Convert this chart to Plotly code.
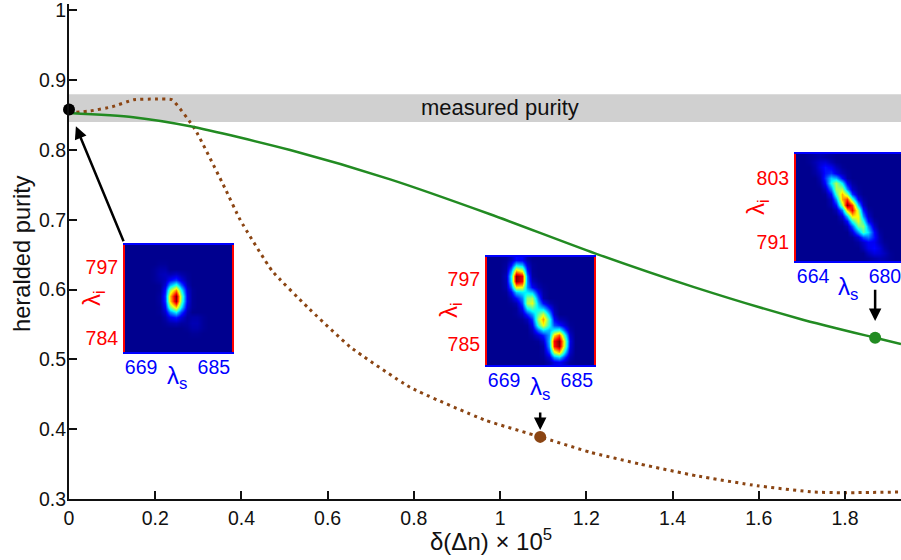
import plotly.graph_objects as go

W, H = 901, 560
L, TOP, BOT = 69, 4, 499

delta_green = [0, .149, .281, .513, .745, .977, 1.22, 1.448, 1.696, 1.87, 1.93]
purity_green = [.853, .847, .834, .800, .758, .708, .652, .604, .558, .531, .522]
delta_brown = [0, .05, .1, .15, .2, .239, .292, .362, .397, .471, .553, .652, .791, .965, 1.093, 1.209, 1.325, 1.457, 1.596, 1.726, 1.796, 1.93]
purity_brown = [.853, .856, .862, .872, .873, .872, .830, .745, .700, .627, .575, .518, .460, .413, .389, .367, .350, .333, .319, .310, .309, .310]
band_low, band_high = 0.84, 0.88
x_ticks = [0, .2, .4, .6, .8, 1, 1.2, 1.4, 1.6, 1.8]
y_ticks = [.3, .4, .5, .6, .7, .8, .9, 1]
dots_x = [0, 1.093, 1.87]
dots_y = [.858, .389, .531]

map_a = [
 [0]*20,
 [0]*20,
 [0]*20,
 [0,0,0,0,0,0,1,1,0,0,0,0,0,0,0,0,0,0,0,0],
 [0,0,0,0,0,1,3,3,0,0,0,0,0,0,0,0,0,0,0,0],
 [0,0,0,0,0,1,4,5,4,6,3,1,0,0,0,0,0,0,0,0],
 [0,0,0,0,0,1,3,5,13,18,9,2,0,0,0,0,0,0,0,0],
 [0,0,0,0,0,0,1,8,30,43,22,4,0,0,0,0,0,0,0,0],
 [0,0,0,0,0,0,1,14,53,74,39,8,1,0,0,0,0,0,0,0],
 [0,0,0,0,0,0,2,18,69,100,51,10,1,0,0,0,0,0,0,0],
 [0,0,0,0,0,0,2,17,67,98,49,10,1,0,0,0,0,0,0,0],
 [0,0,0,0,0,0,1,12,48,68,36,7,1,0,0,0,0,0,0,0],
 [0,0,0,0,0,0,1,7,26,37,19,4,0,0,0,0,0,0,0,0],
 [0,0,0,0,0,0,0,3,11,15,8,2,3,3,1,0,0,0,0,0],
 [0,0,0,0,0,0,0,1,3,4,2,2,4,4,1,0,0,0,0,0],
 [0,0,0,0,0,0,0,0,0,0,0,1,3,3,1,0,0,0,0,0],
 [0,0,0,0,0,0,0,0,0,0,0,0,1,1,0,0,0,0,0,0],
 [0]*20,
 [0]*20,
 [0]*20,
]
map_b = [
 [0,0,0,1,5,13,11,3,0,0,0,0,0,0,0,0,0,0,0,0],
 [0,0,0,2,13,36,31,8,1,0,0,0,0,0,0,0,0,0,0,0],
 [0,0,0,3,28,72,62,16,1,0,0,0,0,0,0,0,0,0,0,0],
 [0,0,0,5,38,100,90,24,2,0,0,0,0,0,0,0,0,0,0,0],
 [0,0,0,4,36,98,88,26,5,1,0,0,0,0,0,0,0,0,0,0],
 [0,0,0,3,24,64,62,27,12,4,1,0,0,0,0,0,0,0,0,0],
 [0,0,0,1,11,32,36,36,32,12,2,0,0,0,0,0,0,0,0,0],
 [0,0,0,0,4,13,25,50,54,22,3,0,0,0,0,0,0,0,0,0],
 [0,0,0,0,1,4,19,54,60,30,13,4,1,0,0,0,0,0,0,0],
 [0,0,0,0,0,1,12,38,46,36,31,15,3,0,0,0,0,0,0,0],
 [0,0,0,0,0,1,5,17,28,46,58,31,6,0,0,0,0,0,0,0],
 [0,0,0,0,0,0,1,5,17,54,72,43,12,4,2,0,0,0,0,0],
 [0,0,0,0,0,0,0,1,10,43,62,40,20,15,7,1,0,0,0,0],
 [0,0,0,0,0,0,0,0,5,23,35,30,38,42,19,3,0,0,0,0],
 [0,0,0,0,0,0,0,0,2,8,15,28,66,80,38,6,0,0,0,0],
 [0,0,0,0,0,0,0,0,0,1,7,31,88,100,52,9,0,0,0,0],
 [0,0,0,0,0,0,0,0,0,0,3,28,86,98,50,8,0,0,0,0],
 [0,0,0,0,0,0,0,0,0,0,2,18,58,70,33,6,0,0,0,0],
 [0,0,0,0,0,0,0,0,0,0,1,8,28,34,16,3,0,0,0,0],
 [0,0,0,0,0,0,0,0,0,0,0,3,9,11,6,1,0,0,0,0],
]
map_c = [
 [0,0,1,2,3,2,1,0,0,0,0,0,0,0,0,0,0,0,0,0],
 [0,0,1,4,7,8,4,1,0,0,0,0,0,0,0,0,0,0,0,0],
 [0,0,0,3,9,14,11,5,1,0,0,0,0,0,0,0,0,0,0,0],
 [0,0,0,2,6,14,17,10,4,1,0,0,0,0,0,0,0,0,0,0],
 [0,0,0,0,4,17,33,30,13,2,0,0,0,0,0,0,0,0,0,0],
 [0,0,0,0,2,13,39,55,36,11,2,0,0,0,0,0,0,0,0,0],
 [0,0,0,0,0,5,25,54,55,26,6,1,0,0,0,0,0,0,0,0],
 [0,0,0,0,0,1,13,44,70,52,18,3,0,0,0,0,0,0,0,0],
 [0,0,0,0,0,0,5,28,71,82,45,11,2,0,0,0,0,0,0,0],
 [0,0,0,0,0,0,3,14,54,100,82,32,6,0,0,0,0,0,0,0],
 [0,0,0,0,0,0,0,4,24,68,89,54,15,2,0,0,0,0,0,0],
 [0,0,0,0,0,0,0,0,8,32,65,62,27,6,0,0,0,0,0,0],
 [0,0,0,0,0,0,0,0,2,13,41,60,41,13,2,0,0,0,0,0],
 [0,0,0,0,0,0,0,0,0,4,21,48,52,26,6,0,0,0,0,0],
 [0,0,0,0,0,0,0,0,0,0,8,27,45,35,13,2,0,0,0,0],
 [0,0,0,0,0,0,0,0,0,0,1,8,20,24,14,4,0,0,0,0],
 [0,0,0,0,0,0,0,0,0,0,0,2,7,12,11,5,1,0,0,0],
 [0,0,0,0,0,0,0,0,0,0,0,0,4,10,13,9,3,0,0,0],
 [0,0,0,0,0,0,0,0,0,0,0,0,0,5,9,8,5,1,0,0],
 [0,0,0,0,0,0,0,0,0,0,0,0,0,1,3,4,3,1,0,0],
]

FONT = "Liberation Sans"
INK = "#111111"
BLUE = "#0000ff"
RED = "#ff0000"
JET = [[0, "#00008f"], [.125, "#0000ff"], [.375, "#00ffff"], [.625, "#ffff00"], [.875, "#ff0000"], [1, "#800000"]]

fig = go.Figure()
fig.add_trace(go.Scatter(x=delta_brown, y=purity_brown, mode="lines",
                         line=dict(color="#8b4513", width=3, dash="3px,4.3px", shape="spline", smoothing=.4)))
fig.add_trace(go.Scatter(x=delta_green, y=purity_green, mode="lines",
                         line=dict(color="#228b22", width=2.5, shape="spline", smoothing=.7)))
fig.add_trace(go.Scatter(x=dots_x, y=dots_y, mode="markers", cliponaxis=False,
                         marker=dict(size=12, color=["#000000", "#8b4513", "#228b22"])))


def px(x):
    return x / W


def py(y):
    return 1 - y / H


insets = [
    dict(z=map_a, box=(125, 245, 232, 352), xt=[3, 16.6], xl=["669", "685"], yt=[4.1, 17.4], yl=["797", "784"],
         li=(93, 298), ls=(177, 377), xr=[0, 20]),
    dict(z=map_b, box=(487, 257, 594, 365), xt=[3.2, 16.8], xl=["669", "685"], yt=[4.1, 16.1], yl=["797", "785"],
         li=(450, 310), ls=(540, 388), xr=[0, 20]),
    dict(z=map_c, box=(796, 154, 901, 261), xt=[3.2, 16.6], xl=["664", "680"], yt=[4.5, 16.4], yl=["803", "791"],
         li=(757, 207), ls=(848, 288), xr=[0, 19.6]),
]
layout_axes = {}
anns = []
for i, ins in enumerate(insets, start=2):
    x0, y0, x1, y1 = ins["box"]
    fig.add_trace(go.Heatmap(z=ins["z"], x=[c + .5 for c in range(20)], y=[r + .5 for r in range(20)],
                             colorscale=JET, zmin=0, zmax=100, zsmooth="best", showscale=False,
                             hoverinfo="skip", xaxis=f"x{i}", yaxis=f"y{i}"))
    layout_axes[f"xaxis{i}"] = dict(domain=[px(x0), px(x1)], anchor=f"y{i}", range=ins["xr"], showgrid=False,
                                    automargin=False, zeroline=False, showline=True, mirror=True, linecolor=BLUE,
                                    linewidth=2, ticks="", tickvals=ins["xt"], ticktext=ins["xl"], ticklabelstandoff=-3,
                                    ticklabeloverflow="allow", tickfont=dict(family=FONT, size=19.5, color=BLUE))
    layout_axes[f"yaxis{i}"] = dict(domain=[py(y1), py(y0)], anchor=f"x{i}", range=[20, 0], showgrid=False,
                                    automargin=False, zeroline=False, showline=True, mirror=True, linecolor=RED,
                                    linewidth=2, ticks="", tickvals=ins["yt"], ticktext=ins["yl"], ticklabelstandoff=1,
                                    ticklabeloverflow="allow", tickfont=dict(family=FONT, size=19.5, color=RED))
    anns.append(dict(xref="paper", yref="paper", x=px(ins["li"][0]), y=py(ins["li"][1]), text="λ<sub>i</sub>",
                     xanchor="center", yanchor="middle", textangle=-90, showarrow=False,
                     font=dict(family=FONT, size=24, color=RED)))
    anns.append(dict(xref="paper", yref="paper", x=px(ins["ls"][0]), y=py(ins["ls"][1]), text="λ<sub>s</sub>",
                     xanchor="center", yanchor="middle", showarrow=False,
                     font=dict(family=FONT, size=24, color=BLUE)))

arrows = [(0.016, .834, .128, .667), (1.093, .399, 1.093, .426), (1.87, .555, 1.87, .602)]
for xh, yh, xt, yt in arrows:
    anns.append(dict(x=xh, y=yh, ax=xt, ay=yt, xref="x", yref="y", axref="x", ayref="y", text="", showarrow=True,
                     arrowhead=2, arrowsize=1, arrowwidth=2.5, arrowcolor="#000000"))
anns.append(dict(x=500 / W, y=py(108), xref="paper", yref="paper", text="measured purity", showarrow=False,
                 xanchor="center", yanchor="middle", font=dict(family=FONT, size=22, color=INK)))
anns.append(dict(x=px(22), y=py(254), xref="paper", yref="paper", text="heralded purity", showarrow=False,
                 xanchor="center", yanchor="middle", textangle=-90, font=dict(family=FONT, size=23.7, color=INK)))
anns.append(dict(x=px(491), y=py(540), xref="paper", yref="paper", text="δ(Δn) × 10<sup>5</sup>", showarrow=False,
                 xanchor="center", yanchor="middle", font=dict(family=FONT, size=24, color=INK)))

fig.update_layout(
    width=W, height=H, showlegend=False, paper_bgcolor="white", plot_bgcolor="white",
    margin=dict(l=0, r=0, t=0, b=0),
    xaxis=dict(domain=[px(L), 1], range=[0, 1.93], anchor="y", tickvals=x_ticks, automargin=False,
               ticktext=["0", "0.2", "0.4", "0.6", "0.8", "1", "1.2", "1.4", "1.6", "1.8"],
               ticks="inside", ticklen=8, tickwidth=1.5, tickcolor=INK, showline=True, linecolor=INK, linewidth=2,
               showgrid=False, zeroline=False, ticklabelstandoff=1, ticklabeloverflow="allow",
               tickfont=dict(family=FONT, size=19.5, color=INK)),
    yaxis=dict(domain=[py(BOT), py(TOP)], range=[.3, 1.0092], anchor="x", tickvals=y_ticks, automargin=False,
               ticktext=["0.3", "0.4", "0.5", "0.6", "0.7", "0.8", "0.9", "1"],
               ticks="inside", ticklen=8, tickwidth=1.5, tickcolor=INK, showline=True, linecolor=INK, linewidth=2,
               showgrid=False, zeroline=False, ticklabelstandoff=-3, ticklabeloverflow="allow",
               tickfont=dict(family=FONT, size=19.5, color=INK)),
    shapes=[dict(type="rect", xref="x", yref="y", x0=0, x1=1.93, y0=band_low, y1=band_high, fillcolor="#d0d0d0",
                 line_width=0, layer="below")],
    annotations=anns,
    **layout_axes,
)
fig.write_html("out.html", config={"displayModeBar": False},
               post_script="document.documentElement.style.margin='0';document.body.style.margin='0';var gd=document.getElementById('{plot_id}');gd.parentElement.style.width='901px';Plotly.relayout(gd,{width:901,height:560});")
